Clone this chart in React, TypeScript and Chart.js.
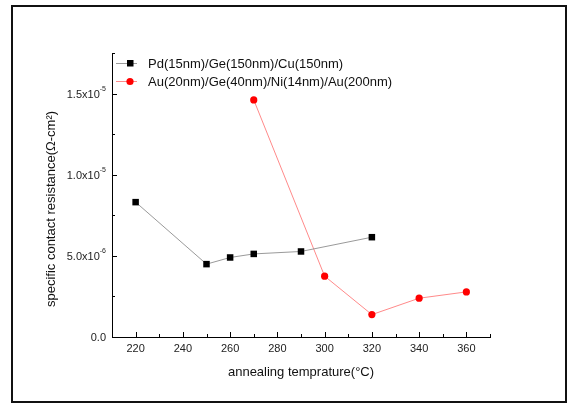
import React, { useEffect, useRef } from "react";
import { Chart, registerables } from "chart.js";

Chart.register(...registerables);

const pdTemps = [220, 250, 260, 270, 290, 320];
const pdValues = [8.31e-6, 4.49e-6, 4.9e-6, 5.12e-6, 5.27e-6, 6.15e-6];
const auTemps = [270, 300, 320, 340, 360];
const auValues = [14.61e-6, 3.75e-6, 1.38e-6, 2.39e-6, 2.78e-6];

const seriesNames = ["Pd(15nm)/Ge(150nm)/Cu(150nm)", "Au(20nm)/Ge(40nm)/Ni(14nm)/Au(200nm)"];
const xMajorTicks = [220, 240, 260, 280, 300, 320, 340, 360];
const xMinorTicks = [210, 230, 250, 270, 290, 310, 330, 350, 370];
const yMajorTicks = [0, 5e-6, 1e-5, 1.5e-5];
const yMinorTicks = [2.5e-6, 7.5e-6, 1.25e-5, 1.75e-5];
const yTickMantissa = ["0.0", "5.0x10", "1.0x10", "1.5x10"];
const yTickExponent = ["", "-6", "-5", "-5"];
const xTitle = "annealing temprature(\u00B0C)";
const yTitle = "specific contact resistance(\u03A9-cm\u00B2)";

const FONT = "'Liberation Sans', Arial, sans-serif";

const decorPlugin = {
  id: "decor",
  beforeDraw(chart: any) {
    const ctx = chart.ctx;
    ctx.save();
    ctx.fillStyle = "#ffffff";
    ctx.fillRect(0, 0, chart.width, chart.height);
    ctx.restore();
  },
  afterDraw(chart: any) {
    const ctx = chart.ctx;
    const xs = chart.scales.x;
    const ys = chart.scales.y;
    const area = chart.chartArea;
    ctx.save();
    // frame
    ctx.strokeStyle = "#111";
    ctx.lineWidth = 2;
    ctx.strokeRect(12, 6, 554, 396);

    // ticks (inward)
    ctx.strokeStyle = "#000";
    ctx.lineWidth = 1;
    ctx.beginPath();
    xMajorTicks.forEach((v) => {
      const px = Math.round(xs.getPixelForValue(v)) + 0.5;
      ctx.moveTo(px, area.bottom);
      ctx.lineTo(px, area.bottom - 5);
    });
    xMinorTicks.forEach((v) => {
      const px = Math.round(xs.getPixelForValue(v)) + 0.5;
      ctx.moveTo(px, area.bottom);
      ctx.lineTo(px, area.bottom - 3);
    });
    yMajorTicks.forEach((v) => {
      const py = Math.round(ys.getPixelForValue(v)) + 0.5;
      ctx.moveTo(area.left, py);
      ctx.lineTo(area.left + 5, py);
    });
    yMinorTicks.forEach((v) => {
      const py = Math.round(ys.getPixelForValue(v)) + 0.5;
      ctx.moveTo(area.left, py);
      ctx.lineTo(area.left + 3, py);
    });
    ctx.stroke();

    // y tick labels with superscripts
    ctx.fillStyle = "#222";
    ctx.textBaseline = "middle";
    yMajorTicks.forEach((v, i) => {
      const py = ys.getPixelForValue(v);
      const rightX = area.left - 6;
      ctx.font = `7px ${FONT}`;
      const exp = yTickExponent[i];
      const ew = exp ? ctx.measureText(exp).width : 0;
      if (exp) {
        ctx.textAlign = "right";
        ctx.fillText(exp, rightX, py - 5);
      }
      ctx.font = `11px ${FONT}`;
      ctx.textAlign = "right";
      ctx.fillText(yTickMantissa[i], rightX - ew, py + 1);
    });

    // y title
    ctx.save();
    ctx.translate(51, 209);
    ctx.rotate(-Math.PI / 2);
    ctx.font = `13px ${FONT}`;
    ctx.textAlign = "center";
    ctx.textBaseline = "middle";
    ctx.fillStyle = "#111";
    ctx.fillText(yTitle, 0, 0);
    ctx.restore();

    // legend
    const legendRows = [
      { y: 63, line: "#9a9a9a", fill: "#000", shape: "rect" },
      { y: 81, line: "#ff8a8a", fill: "#ff0000", shape: "circle" },
    ];
    legendRows.forEach((r, i) => {
      ctx.strokeStyle = r.line;
      ctx.lineWidth = 1;
      ctx.beginPath();
      ctx.moveTo(116, r.y + 0.5);
      ctx.lineTo(137, r.y + 0.5);
      ctx.stroke();
      ctx.fillStyle = r.fill;
      if (r.shape === "rect") {
        ctx.fillRect(127, r.y - 3, 6.5, 6.5);
      } else {
        ctx.beginPath();
        ctx.arc(130, r.y + 0.5, 3.6, 0, Math.PI * 2);
        ctx.fill();
      }
      ctx.fillStyle = "#111";
      ctx.font = `13px ${FONT}`;
      ctx.textAlign = "left";
      ctx.textBaseline = "middle";
      ctx.fillText(seriesNames[i], 148, r.y + 1);
    });
    ctx.restore();
  },
};

export default function App() {
  const ref = useRef<HTMLCanvasElement | null>(null);
  useEffect(() => {
    if (!ref.current) return;
    const chart = new Chart(ref.current, {
      type: "line",
      data: {
        datasets: [
          {
            label: seriesNames[0],
            data: pdTemps.map((t, i) => ({ x: t, y: pdValues[i] })),
            borderColor: "#9a9a9a",
            borderWidth: 1,
            pointStyle: "rect",
            pointRadius: 4.6,
            pointBackgroundColor: "#000",
            pointBorderColor: "#000",
            pointBorderWidth: 0,
            tension: 0,
          },
          {
            label: seriesNames[1],
            data: auTemps.map((t, i) => ({ x: t, y: auValues[i] })),
            borderColor: "#ff8a8a",
            borderWidth: 1,
            pointStyle: "circle",
            pointRadius: 3.6,
            pointBackgroundColor: "#ff0000",
            pointBorderColor: "#ff0000",
            pointBorderWidth: 0,
            tension: 0,
          },
        ],
      },
      options: {
        animation: false,
        responsive: false,
        maintainAspectRatio: false,
        layout: { padding: { left: 14, right: 78, top: 53, bottom: 8 } },
        plugins: { legend: { display: false }, tooltip: { enabled: false } },
        scales: {
          x: {
            type: "linear",
            min: 210,
            max: 370,
            grid: { display: false, drawTicks: false },
            border: { display: true, color: "#000", width: 1 },
            afterBuildTicks: (s: any) => {
              s.ticks = xMajorTicks.map((v) => ({ value: v }));
            },
            afterFit: (s: any) => {
              s.height = 61;
            },
            ticks: {
              color: "#222",
              padding: 5,
              maxRotation: 0,
              autoSkip: false,
              font: { family: FONT, size: 11 },
            },
            title: {
              display: true,
              text: xTitle,
              color: "#111",
              font: { family: FONT, size: 13 },
              padding: { top: 0, bottom: 18 },
            },
          },
          y: {
            type: "linear",
            min: 0,
            max: 1.75e-5,
            grid: { display: false, drawTicks: false },
            border: { display: true, color: "#000", width: 1 },
            afterBuildTicks: (s: any) => {
              s.ticks = yMajorTicks.map((v) => ({ value: v }));
            },
            afterFit: (s: any) => {
              s.width = 98;
            },
            ticks: { display: false },
          },
        },
      },
      plugins: [decorPlugin],
    });
    return () => chart.destroy();
  }, []);
  return (
    <div style={{ position: "fixed", left: 0, top: 0, width: 568, height: 406 }}>
      <canvas ref={ref} width={568} height={406} style={{ width: 568, height: 406, display: "block" }} />
    </div>
  );
}
